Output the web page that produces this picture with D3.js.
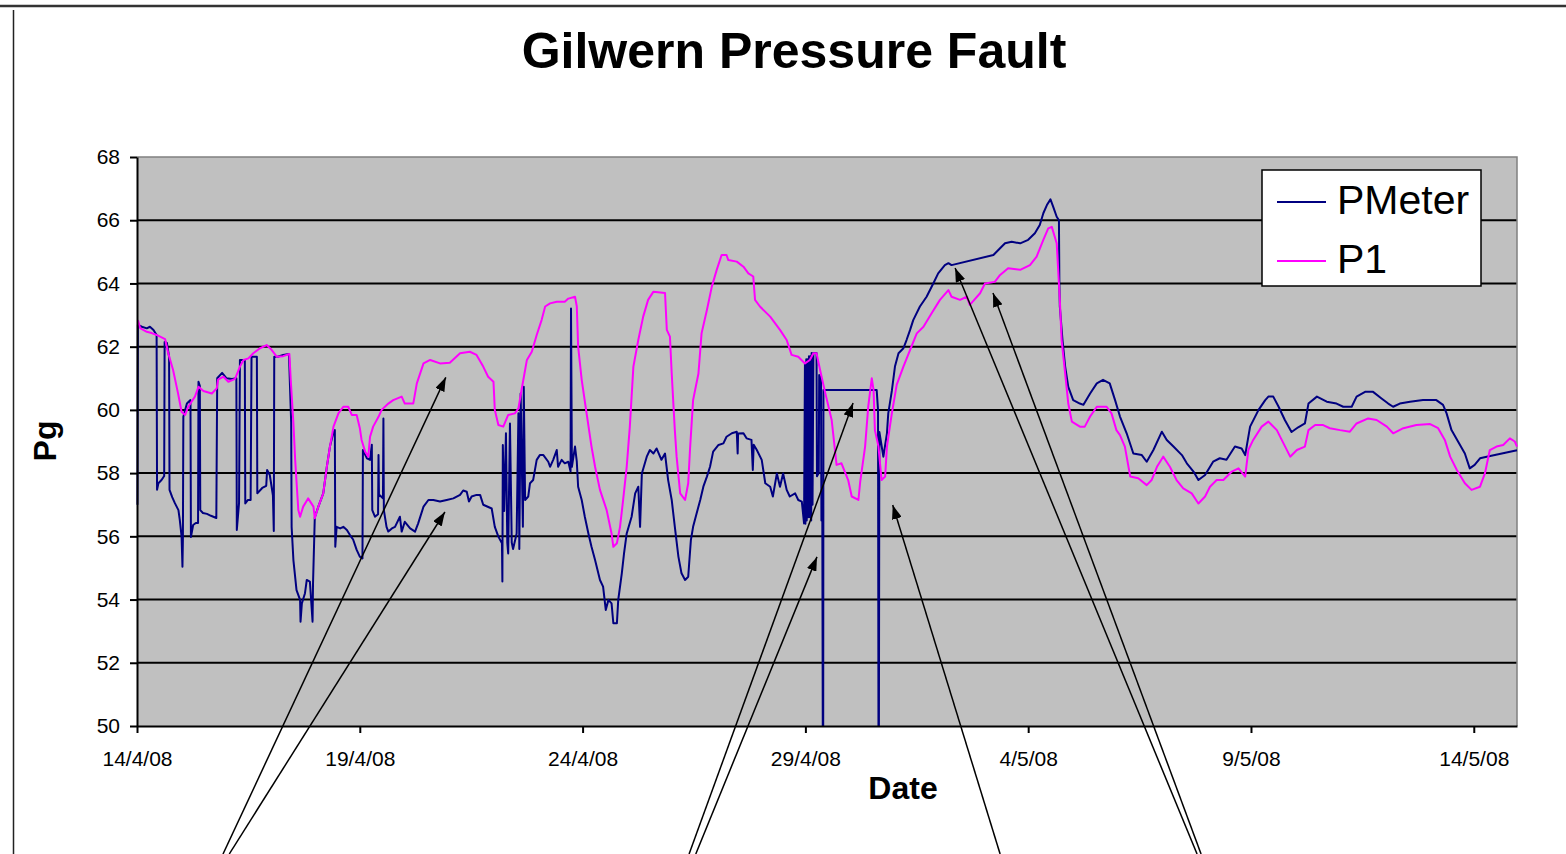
<!DOCTYPE html>
<html>
<head>
<meta charset="utf-8">
<script src="https://cdn.jsdelivr.net/npm/d3@7"></script>
<style>
  body { margin: 0; background: #fff; }
  svg { display: block; font-family: "Liberation Sans", Arial, sans-serif; }
  .axis path, .axis line { stroke: #000; stroke-width: 2; }
  .axis text { font-size: 21px; fill: #000; }
</style>
</head>
<body>
<div id="chart"></div>
<script>
// day offsets are counted from 14/4/08 00:00
var startDate = Date.UTC(2008, 3, 14);
var DAY = 86400000;
var xSpanDays = 30.97;

var xTickDays   = [0, 5, 10, 15, 20, 25, 30];
var xTickLabels = ["14/4/08", "19/4/08", "24/4/08", "29/4/08", "4/5/08", "9/5/08", "14/5/08"];
var yTicks      = [50, 52, 54, 56, 58, 60, 62, 64, 66, 68];

var seriesNames  = ["PMeter", "P1"];
var seriesColors = ["#000080", "#ff00ff"];

// [day, Pg]
var pmeter = [
  [0.01,57.0],[0.02,62.69],[0.11,62.63],[0.22,62.58],[0.29,62.63],[0.37,62.53],[0.44,62.37],[0.45,57.47],[0.48,57.68],[0.55,57.78],
  [0.61,57.91],[0.62,62.15],[0.67,62.12],[0.72,61.68],[0.73,57.47],[0.79,57.24],[0.85,57.05],[0.93,56.83],[0.96,56.52],[1.00,56.0],
  [1.02,55.04],[1.03,55.9],[1.04,59.78],[1.12,60.2],[1.20,60.31],[1.21,55.98],[1.26,56.36],[1.32,56.42],[1.37,56.42],[1.38,60.89],
  [1.41,60.76],[1.42,56.83],[1.48,56.74],[1.57,56.71],[1.66,56.65],[1.78,56.58],[1.80,61.0],[1.91,61.17],[2.01,61.0],[2.13,60.98],
  [2.23,61.0],[2.24,56.2],[2.29,57.05],[2.31,61.58],[2.42,61.58],[2.43,57.04],[2.49,57.15],[2.55,57.15],[2.57,61.68],[2.69,61.68],
  [2.70,57.36],[2.81,57.53],[2.90,57.6],[2.92,58.1],[2.98,57.94],[3.05,57.3],[3.07,56.17],[3.08,61.68],[3.16,61.68],[3.28,61.74],
  [3.41,61.77],[3.46,59.6],[3.47,56.3],[3.51,55.25],[3.58,54.3],[3.66,53.99],[3.67,53.3],[3.70,53.88],[3.77,54.2],[3.81,54.62],
  [3.88,54.57],[3.94,53.3],[3.95,54.5],[3.99,56.6],[4.07,56.94],[4.18,57.36],[4.26,58.2],[4.33,58.84],[4.41,59.3],[4.44,59.36],
  [4.45,55.67],[4.48,56.3],[4.56,56.25],[4.63,56.3],[4.71,56.2],[4.78,56.04],[4.85,55.9],[4.93,55.57],[5.00,55.36],[5.06,55.3],
  [5.07,58.73],[5.16,58.47],[5.23,58.42],[5.27,58.9],[5.28,56.83],[5.34,56.62],[5.41,56.7],[5.42,58.57],[5.43,57.26],[5.45,57.3],
  [5.52,57.2],[5.53,59.73],[5.54,56.83],[5.60,56.3],[5.64,56.15],[5.72,56.25],[5.79,56.3],[5.90,56.62],[5.94,56.15],[6.01,56.46],
  [6.13,56.25],[6.24,56.15],[6.31,56.41],[6.43,56.94],[6.54,57.15],[6.65,57.15],[6.80,57.1],[6.95,57.15],[7.10,57.2],[7.25,57.31],
  [7.32,57.45],[7.40,57.41],[7.45,57.1],[7.51,57.26],[7.62,57.31],[7.70,57.31],[7.77,57.0],[7.96,56.88],[8.03,56.3],[8.11,55.99],
  [8.19,55.78],[8.20,54.57],[8.21,58.89],[8.24,56.8],[8.28,59.26],[8.31,55.8],[8.33,55.46],[8.37,59.57],[8.41,55.8],[8.44,55.6],
  [8.52,56.09],[8.56,59.89],[8.58,55.6],[8.61,60.52],[8.66,56.3],[8.68,60.73],[8.71,57.15],[8.78,57.26],[8.82,57.68],[8.89,57.78],
  [8.97,58.42],[9.04,58.57],[9.12,58.57],[9.23,58.36],[9.27,58.2],[9.34,58.42],[9.42,58.73],[9.45,58.2],[9.53,58.42],[9.60,58.31],
  [9.68,58.36],[9.73,58.05],[9.74,63.21],[9.76,58.2],[9.83,58.84],[9.87,58.36],[9.90,57.57],[9.98,57.15],[10.05,56.62],[10.13,56.09],
  [10.20,55.67],[10.28,55.25],[10.39,54.62],[10.46,54.41],[10.52,53.67],[10.58,53.99],[10.65,53.88],[10.69,53.25],[10.77,53.25],[10.80,53.99],
  [10.88,54.83],[10.93,55.46],[10.99,56.09],[11.10,56.62],[11.18,57.36],[11.25,57.57],[11.29,56.3],[11.33,57.99],[11.44,58.52],[11.51,58.73],
  [11.59,58.62],[11.66,58.78],[11.77,58.42],[11.85,58.62],[11.92,57.78],[12.00,57.15],[12.07,56.3],[12.15,55.36],[12.22,54.83],[12.30,54.62],
  [12.37,54.72],[12.43,55.88],[12.48,56.3],[12.56,56.73],[12.64,57.15],[12.71,57.57],[12.79,57.89],[12.86,58.2],[12.93,58.68],[13.05,58.89],
  [13.16,58.94],[13.23,59.15],[13.35,59.26],[13.46,59.31],[13.48,58.62],[13.49,59.25],[13.61,59.26],[13.68,59.1],[13.79,59.05],[13.82,58.1],
  [13.84,58.9],[13.91,58.73],[14.02,58.42],[14.10,57.68],[14.21,57.57],[14.27,57.26],[14.36,57.99],[14.43,57.57],[14.50,57.99],[14.58,57.47],
  [14.65,57.26],[14.77,57.36],[14.84,57.15],[14.92,57.1],[14.97,56.41],[14.99,61.47],[15.00,56.4],[15.02,61.6],[15.03,56.5],[15.05,61.6],
  [15.06,56.6],[15.08,61.7],[15.10,56.6],[15.11,61.7],[15.13,56.5],[15.14,61.8],[15.16,57.0],[15.18,61.8],[15.25,61.8],[15.26,57.9],
  [15.30,58.0],[15.31,61.1],[15.35,61.0],[15.36,56.5],[15.38,56.5],[15.39,50],[15.40,50],[15.405,60.63],[16.60,60.63],[16.63,60.0],
  [16.64,50],[16.65,50],[16.66,59.3],[16.75,58.52],[16.83,59.26],[16.86,59.89],[16.94,60.6],[17.01,61.37],[17.09,61.79],[17.20,61.95],
  [17.27,62.21],[17.35,62.53],[17.42,62.84],[17.57,63.27],[17.72,63.58],[17.87,64.0],[17.98,64.32],[18.13,64.58],[18.21,64.64],[18.28,64.58],
  [19.22,64.9],[19.33,65.06],[19.48,65.27],[19.63,65.32],[19.82,65.27],[20.00,65.38],[20.15,65.59],[20.26,65.85],[20.34,66.22],[20.42,66.48],
  [20.50,66.66],[20.56,66.43],[20.64,66.11],[20.69,66.0],[20.70,64.0],[20.71,63.27],[20.77,62.21],[20.83,61.37],[20.90,60.73],[21.01,60.31],
  [21.16,60.2],[21.24,60.16],[21.39,60.52],[21.54,60.84],[21.68,60.95],[21.83,60.84],[21.95,60.31],[22.06,59.79],[22.21,59.26],[22.36,58.62],
  [22.55,58.57],[22.66,58.36],[22.81,58.73],[23.00,59.31],[23.11,59.05],[23.26,58.84],[23.45,58.57],[23.56,58.31],[23.71,58.05],[23.82,57.78],
  [23.97,57.94],[24.15,58.36],[24.30,58.47],[24.45,58.42],[24.64,58.84],[24.79,58.78],[24.87,58.57],[24.98,59.47],[25.17,60.0],[25.32,60.31],
  [25.39,60.42],[25.50,60.42],[25.62,60.1],[25.76,59.68],[25.91,59.3],[26.06,59.45],[26.21,59.57],[26.29,60.2],[26.48,60.42],[26.70,60.26],
  [26.92,60.2],[27.07,60.1],[27.26,60.1],[27.37,60.42],[27.56,60.57],[27.74,60.57],[27.93,60.36],[28.08,60.2],[28.19,60.1],[28.34,60.2],
  [28.57,60.26],[28.86,60.31],[29.16,60.31],[29.31,60.16],[29.39,59.89],[29.50,59.36],[29.65,58.99],[29.80,58.62],[29.91,58.15],[30.02,58.26],
  [30.14,58.47],[30.29,58.52],[30.97,58.72]
];

var p1 = [
  [0.02,62.84],[0.07,62.59],[0.22,62.47],[0.33,62.43],[0.44,62.37],[0.63,62.24],[0.70,61.8],[0.81,61.26],[0.92,60.53],[1.00,59.94],
  [1.08,59.84],[1.15,60.1],[1.30,60.42],[1.38,60.73],[1.49,60.6],[1.68,60.52],[1.79,60.68],[1.82,60.96],[1.94,61.05],[2.05,60.89],
  [2.20,60.98],[2.31,61.37],[2.39,61.58],[2.50,61.63],[2.61,61.79],[2.76,61.95],[2.91,62.05],[3.02,61.9],[3.14,61.68],[3.28,61.7],
  [3.42,61.77],[3.45,60.95],[3.51,59.58],[3.55,58.41],[3.62,56.83],[3.66,56.62],[3.73,56.94],[3.84,57.2],[3.96,56.94],[3.99,56.57],
  [4.07,56.94],[4.18,57.36],[4.26,58.2],[4.33,58.84],[4.41,59.47],[4.52,59.89],[4.63,60.1],[4.74,60.1],[4.82,59.84],[4.93,59.84],
  [5.00,59.43],[5.04,59.05],[5.12,58.68],[5.19,58.52],[5.23,59.15],[5.30,59.47],[5.42,59.78],[5.49,60.0],[5.64,60.2],[5.75,60.31],
  [5.94,60.42],[6.01,60.2],[6.20,60.2],[6.28,60.84],[6.43,61.47],[6.58,61.58],[6.80,61.47],[7.02,61.49],[7.25,61.79],[7.47,61.84],
  [7.62,61.74],[7.77,61.37],[7.88,61.05],[8.00,60.89],[8.03,60.0],[8.11,59.52],[8.22,59.47],[8.33,59.84],[8.48,59.89],[8.56,60.05],
  [8.63,60.63],[8.75,61.58],[8.86,61.84],[8.97,62.37],[9.08,62.84],[9.16,63.27],[9.27,63.37],[9.42,63.42],[9.60,63.42],[9.68,63.52],
  [9.83,63.58],[9.87,63.27],[9.90,62.0],[9.98,60.95],[10.09,59.89],[10.20,58.84],[10.28,58.2],[10.39,57.47],[10.54,56.83],[10.65,56.09],
  [10.69,55.67],[10.77,55.78],[10.84,56.3],[10.91,57.15],[10.99,58.2],[11.06,59.47],[11.14,61.37],[11.25,62.21],[11.36,62.95],[11.47,63.48],
  [11.59,63.74],[11.85,63.7],[11.89,62.53],[11.96,62.32],[12.00,61.15],[12.07,59.36],[12.11,58.52],[12.19,57.36],[12.30,57.15],[12.37,57.68],
  [12.41,58.73],[12.48,60.31],[12.60,61.15],[12.67,62.42],[12.79,63.16],[12.90,63.9],[13.01,64.43],[13.12,64.9],[13.23,64.9],[13.27,64.74],
  [13.46,64.69],[13.61,64.53],[13.72,64.32],[13.83,64.22],[13.87,63.48],[13.98,63.27],[14.21,62.95],[14.43,62.53],[14.58,62.21],[14.69,61.74],
  [14.84,61.68],[14.99,61.47],[15.10,61.58],[15.18,61.79],[15.25,61.79],[15.33,61.26],[15.44,60.57],[15.59,59.68],[15.70,58.26],[15.81,58.31],
  [15.96,57.78],[16.04,57.26],[16.19,57.15],[16.23,57.72],[16.34,58.84],[16.41,60.1],[16.49,61.0],[16.53,60.63],[16.56,59.36],[16.64,58.84],
  [16.71,57.78],[16.79,57.89],[16.83,58.84],[16.94,59.89],[17.05,60.8],[17.20,61.37],[17.35,61.9],[17.50,62.42],[17.65,62.63],[17.83,63.05],
  [18.02,63.48],[18.21,63.79],[18.28,63.58],[18.47,63.48],[18.62,63.58],[18.69,63.32],[18.92,63.69],[19.03,64.0],[19.25,64.05],[19.37,64.27],
  [19.55,64.48],[19.82,64.43],[20.04,64.58],[20.19,64.85],[20.34,65.38],[20.45,65.74],[20.53,65.79],[20.64,65.27],[20.71,63.48],[20.75,62.21],
  [20.83,61.15],[20.90,60.2],[20.98,59.63],[21.16,59.47],[21.27,59.47],[21.39,59.79],[21.54,60.1],[21.76,60.1],[21.87,59.89],[21.98,59.36],
  [22.06,59.2],[22.17,58.84],[22.29,57.89],[22.47,57.84],[22.66,57.62],[22.77,57.78],[22.89,58.2],[23.03,58.52],[23.18,58.2],[23.33,57.78],
  [23.48,57.52],[23.67,57.36],[23.82,57.04],[23.97,57.26],[24.08,57.57],[24.23,57.78],[24.38,57.78],[24.57,58.05],[24.72,58.15],[24.87,57.89],
  [24.94,58.73],[25.05,59.05],[25.24,59.47],[25.39,59.63],[25.58,59.36],[25.73,58.94],[25.88,58.52],[26.03,58.73],[26.21,58.84],[26.29,59.36],
  [26.44,59.52],[26.62,59.52],[26.77,59.42],[27.00,59.36],[27.22,59.31],[27.37,59.57],[27.63,59.73],[27.82,59.68],[28.05,59.47],[28.19,59.26],
  [28.42,59.42],[28.71,59.52],[29.02,59.55],[29.20,59.42],[29.35,59.05],[29.47,58.52],[29.62,58.1],[29.80,57.68],[29.95,57.47],[30.14,57.57],
  [30.25,57.99],[30.36,58.73],[30.51,58.84],[30.66,58.89],[30.81,59.1],[30.92,59.0],[30.97,58.84]
];

// annotation arrows: tail (off the bottom of the chart) -> tip, in [day, Pg]
var arrowTails = [[1.93,45.95],[2.07,45.95],[12.39,45.95],[12.54,45.95],[19.37,45.95],[23.79,45.95],[23.88,45.95]];
var arrowTips  = [[6.93,61.03],[6.91,56.77],[16.07,60.22],[15.26,55.35],[16.96,56.99],[18.36,64.49],[19.21,63.70]];

function toDate(day) { return new Date(startDate + day * DAY); }

var W = 1566, H = 854,
    margin = {top: 157, right: 49, bottom: 128, left: 137},
    width  = W - margin.left - margin.right,
    height = H - margin.top - margin.bottom;

var svg = d3.select("#chart").append("svg")
  .attr("width", W)
  .attr("height", H);

// page frame
svg.append("line").attr("x1", 0).attr("x2", W).attr("y1", 6).attr("y2", 6)
  .attr("stroke", "#333").attr("stroke-width", 2.5);
svg.append("line").attr("x1", 13.5).attr("x2", 13.5).attr("y1", 10).attr("y2", H)
  .attr("stroke", "#222").attr("stroke-width", 1.5);

var xScale = d3.scaleUtc()
  .domain([toDate(0), toDate(xSpanDays)])
  .range([0, width]);
var yScale = d3.scaleLinear()
  .domain([50, 68])
  .range([height, 0]);

var g = svg.append("g")
  .attr("transform", "translate(" + margin.left + "," + margin.top + ")");

g.append("rect")
  .attr("width", width).attr("height", height)
  .attr("fill", "#c0c0c0");

g.selectAll(".grid")
  .data(yTicks.filter(function(v) { return v > 50 && v < 68; }))
  .enter().append("line")
    .attr("class", "grid")
    .attr("x1", 0).attr("x2", width)
    .attr("y1", function(d) { return yScale(d); })
    .attr("y2", function(d) { return yScale(d); })
    .attr("stroke", "#000").attr("stroke-width", 2);

// grey top/right border of the plot area
g.append("path")
  .attr("d", "M0," + yScale(68) + "H" + width + "V" + height)
  .attr("fill", "none").attr("stroke", "#808080").attr("stroke-width", 1.5);

var line = d3.line()
  .x(function(d) { return xScale(toDate(d[0])); })
  .y(function(d) { return yScale(d[1]); });

var series = [pmeter, p1];
g.selectAll(".series")
  .data(series)
  .enter().append("path")
    .attr("class", "series")
    .attr("fill", "none")
    .attr("stroke", function(d, i) { return seriesColors[i]; })
    .attr("stroke-width", 2)
    .attr("stroke-linejoin", "round")
    .attr("d", line);

var g_yAxis = g.append("g")
  .attr("class", "axis axis--y")
  .call(d3.axisLeft(yScale).tickValues(yTicks).tickSize(7).tickSizeOuter(0).tickPadding(10));

var g_xAxis = g.append("g")
  .attr("class", "axis axis--x")
  .attr("transform", "translate(0," + height + ")")
  .call(d3.axisBottom(xScale)
    .tickValues(xTickDays.map(toDate))
    .tickFormat(function(d, i) { return xTickLabels[i]; })
    .tickSize(7).tickSizeOuter(0).tickPadding(18));

// legend
var legend = svg.append("g").attr("transform", "translate(1262,170)");
legend.append("rect")
  .attr("width", 219).attr("height", 116)
  .attr("fill", "#fff").attr("stroke", "#000").attr("stroke-width", 1.5);
seriesNames.forEach(function(name, i) {
  legend.append("line")
    .attr("x1", 15).attr("x2", 64)
    .attr("y1", 32 + i * 59).attr("y2", 32 + i * 59)
    .attr("stroke", seriesColors[i]).attr("stroke-width", 2);
  legend.append("text")
    .attr("x", 75).attr("y", 44 + i * 59)
    .attr("font-size", 41)
    .text(name);
});

// annotation arrows
var defs = svg.append("defs");
defs.append("marker")
  .attr("id", "head")
  .attr("viewBox", "0 0 14 10")
  .attr("refX", 14).attr("refY", 5)
  .attr("markerWidth", 14).attr("markerHeight", 10)
  .attr("markerUnits", "userSpaceOnUse")
  .attr("orient", "auto")
  .append("path").attr("d", "M0,0L14,5L0,10Z").attr("fill", "#000");

g.selectAll(".arrow")
  .data(arrowTips)
  .enter().append("line")
    .attr("class", "arrow")
    .attr("x1", function(d, i) { return xScale(toDate(arrowTails[i][0])); })
    .attr("y1", function(d, i) { return yScale(arrowTails[i][1]); })
    .attr("x2", function(d) { return xScale(toDate(d[0])); })
    .attr("y2", function(d) { return yScale(d[1]); })
    .attr("stroke", "#000").attr("stroke-width", 1.5)
    .attr("marker-end", "url(#head)");

// titles
svg.append("text")
  .attr("x", 794).attr("y", 68)
  .attr("text-anchor", "middle")
  .attr("font-size", 50).attr("font-weight", "bold")
  .text("Gilwern Pressure Fault");

svg.append("text")
  .attr("x", 903).attr("y", 799)
  .attr("text-anchor", "middle")
  .attr("font-size", 32).attr("font-weight", "bold")
  .text("Date");

svg.append("text")
  .attr("transform", "translate(56,441) rotate(-90)")
  .attr("text-anchor", "middle")
  .attr("font-size", 32).attr("font-weight", "bold")
  .text("Pg");
</script>
</body>
</html>
